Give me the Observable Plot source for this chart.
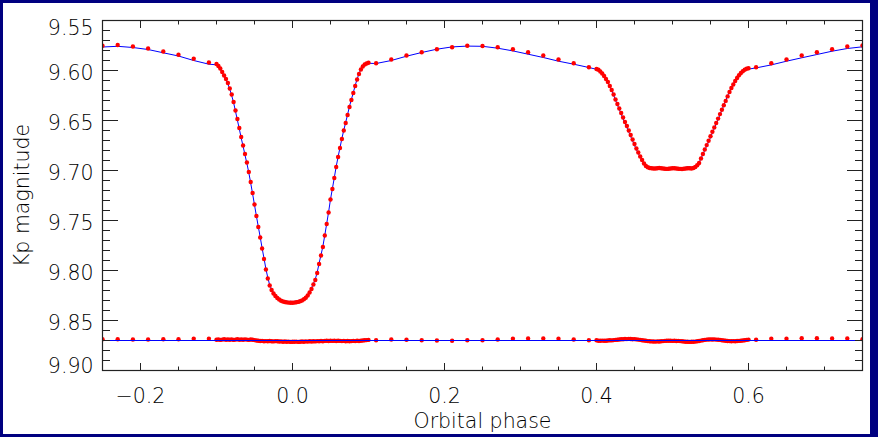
<!DOCTYPE html>
<html><head><meta charset="utf-8">
<script src="https://cdn.jsdelivr.net/npm/d3@7"></script>
<script src="https://cdn.jsdelivr.net/npm/@observablehq/plot@0.6"></script>
<style>
html,body{margin:0;padding:0;background:#fff;}
#wrap{position:relative;width:878px;height:437px;overflow:hidden;}
#border{position:absolute;left:0;top:0;width:878px;height:437px;box-sizing:border-box;border-style:solid;border-color:#000080;border-width:3px 8px 3px 3px;pointer-events:none;}
</style></head>
<body><div id="wrap"><div id="chart"></div><div id="border"></div></div>
<script>
// ---- Out-of-eclipse (binned, 0.02 phase) ----
const sparsePhase = [-0.25,-0.23,-0.21,-0.19,-0.17,-0.15,-0.13,-0.11,
  0.11,0.13,0.15,0.17,0.19,0.21,0.23,0.25,0.27,0.29,0.31,0.33,0.35,0.37,0.39,
  0.61,0.63,0.65,0.67,0.69,0.71,0.73,0.75];
const sparseMag = [9.5752,9.5745,9.5760,9.5780,9.5810,9.5842,9.5883,9.5920,
  9.5927,9.5890,9.5850,9.5817,9.5787,9.5767,9.5753,9.5755,9.5767,9.5787,9.5817,9.5850,9.5890,9.5927,9.5967,
  9.5967,9.5927,9.5890,9.5850,9.5817,9.5787,9.5760,9.5750];
const sparseResid = [-0.0013,-0.0013,-0.0010,-0.0010,-0.0013,-0.0013,-0.0017,-0.0017,
  -0.0003,-0.0010,-0.0007,-0.0003,0.0000,0.0003,-0.0003,-0.0003,-0.0010,-0.0017,-0.0020,-0.0020,-0.0017,-0.0010,-0.0003,
  -0.0007,-0.0017,-0.0017,-0.0023,-0.0023,-0.0020,-0.0020,-0.0013];

// ---- Primary eclipse ----
const primaryPhase = [-0.1000,-0.0975,-0.0950,-0.0925,-0.0900,-0.0875,-0.0850,-0.0825,-0.0800,-0.0775,
  -0.0750,-0.0725,-0.0700,-0.0675,-0.0650,-0.0625,-0.0600,-0.0575,-0.0550,-0.0525,
  -0.0500,-0.0475,-0.0450,-0.0425,-0.0400,-0.0375,-0.0350,-0.0325,-0.0300,-0.0275,
  -0.0250,-0.0225,-0.0200,-0.0175,-0.0150,-0.0125,-0.0100,-0.0075,-0.0050,-0.0025,
  0.0000,0.0025,0.0050,0.0075,0.0100,0.0125,0.0150,0.0175,0.0200,0.0225,
  0.0250,0.0275,0.0300,0.0325,0.0350,0.0375,0.0400,0.0425,0.0450,0.0475,
  0.0500,0.0525,0.0550,0.0575,0.0600,0.0625,0.0650,0.0675,0.0700,0.0725,
  0.0750,0.0775,0.0800,0.0825,0.0850,0.0875,0.0900,0.0925,0.0950,0.0975,0.1000];
const primaryMag = [9.5935,9.5955,9.5980,9.6015,9.6050,9.6085,9.6125,9.6180,9.6240,9.6315,
  9.6400,9.6485,9.6575,9.6665,9.6750,9.6835,9.6920,9.7015,9.7115,9.7225,
  9.7340,9.7455,9.7565,9.7670,9.7780,9.7885,9.7990,9.8080,9.8150,9.8195,
  9.8230,9.8255,9.8275,9.8290,9.8302,9.8310,9.8315,9.8319,9.8321,9.8322,
  9.8322,9.8321,9.8318,9.8314,9.8308,9.8300,9.8288,9.8272,9.8250,9.8220,
  9.8185,9.8140,9.8095,9.8025,9.7935,9.7850,9.7765,9.7650,9.7535,9.7420,
  9.7290,9.7185,9.7075,9.6965,9.6865,9.6775,9.6685,9.6600,9.6525,9.6445,
  9.6365,9.6295,9.6225,9.6155,9.6090,9.6035,9.5990,9.5960,9.5940,9.5930,9.5922];
const primaryResid = [-0.0008,-0.0010,-0.0006,-0.0009,-0.0012,-0.0007,-0.0010,-0.0008,-0.0011,-0.0006,
  -0.0009,-0.0012,-0.0008,-0.0010,-0.0007,-0.0011,-0.0009,-0.0006,-0.0010,-0.0008,
  -0.0004,0.0000,0.0003,0.0005,0.0004,0.0007,0.0006,0.0008,0.0005,0.0007,
  0.0009,0.0006,0.0008,0.0010,0.0009,0.0012,0.0010,0.0013,0.0011,0.0014,
  0.0012,0.0013,0.0011,0.0014,0.0012,0.0010,0.0012,0.0009,0.0011,0.0008,
  0.0010,0.0007,0.0009,0.0006,0.0008,0.0005,0.0007,0.0004,0.0003,0.0005,
  0.0002,0.0004,0.0003,0.0005,0.0002,0.0004,0.0006,0.0004,0.0007,0.0005,
  0.0008,0.0006,0.0004,0.0006,0.0003,0.0005,0.0002,0.0000,-0.0002,-0.0004,-0.0006];

// ---- Secondary eclipse ----
const secondaryPhase = [0.4000,0.4025,0.4050,0.4075,0.4100,0.4125,0.4150,0.4175,0.4200,0.4225,
  0.4250,0.4275,0.4300,0.4325,0.4350,0.4375,0.4400,0.4425,0.4450,0.4475,
  0.4500,0.4525,0.4550,0.4575,0.4600,0.4625,0.4650,0.4675,0.4700,0.4725,
  0.4750,0.4775,0.4800,0.4825,0.4850,0.4875,0.4900,0.4925,0.4950,0.4975,
  0.5000,0.5025,0.5050,0.5075,0.5100,0.5125,0.5150,0.5175,0.5200,0.5225,
  0.5250,0.5275,0.5300,0.5325,0.5350,0.5375,0.5400,0.5425,0.5450,0.5475,
  0.5500,0.5525,0.5550,0.5575,0.5600,0.5625,0.5650,0.5675,0.5700,0.5725,
  0.5750,0.5775,0.5800,0.5825,0.5850,0.5875,0.5900,0.5925,0.5950,0.5975,0.6000];
const secondaryMag = [9.5985,9.5993,9.6010,9.6030,9.6055,9.6085,9.6115,9.6155,9.6195,9.6240,
  9.6290,9.6335,9.6380,9.6425,9.6470,9.6515,9.6555,9.6600,9.6645,9.6690,
  9.6735,9.6780,9.6820,9.6860,9.6895,9.6930,9.6955,9.6968,9.6975,9.6978,
  9.6980,9.6980,9.6978,9.6975,9.6977,9.6980,9.6983,9.6984,9.6982,9.6980,
  9.6978,9.6978,9.6980,9.6982,9.6984,9.6985,9.6983,9.6980,9.6978,9.6978,
  9.6980,9.6975,9.6965,9.6948,9.6925,9.6880,9.6835,9.6790,9.6746,9.6702,
  9.6658,9.6613,9.6569,9.6525,9.6481,9.6436,9.6392,9.6348,9.6304,9.6259,
  9.6215,9.6175,9.6140,9.6105,9.6075,9.6048,9.6025,9.6007,9.5993,9.5983,9.5977];
const secondaryResid = [-0.0003,0.0002,0.0003,0.0001,0.0003,0.0002,0.0000,-0.0002,-0.0001,-0.0004,
  -0.0006,-0.0008,-0.0010,-0.0012,-0.0013,-0.0015,-0.0014,-0.0016,-0.0015,-0.0013,
  -0.0014,-0.0011,-0.0009,-0.0006,-0.0003,0.0000,0.0003,0.0006,0.0008,0.0009,
  0.0010,0.0011,0.0009,0.0010,0.0008,0.0006,0.0004,0.0003,0.0002,0.0003,
  0.0004,0.0003,0.0005,0.0004,0.0006,0.0008,0.0010,0.0012,0.0013,0.0014,
  0.0013,0.0012,0.0011,0.0008,0.0005,0.0001,-0.0003,-0.0006,-0.0009,-0.0010,
  -0.0011,-0.0010,-0.0011,-0.0009,-0.0008,-0.0006,-0.0003,0.0000,0.0003,0.0005,
  0.0006,0.0007,0.0006,0.0007,0.0005,0.0004,0.0002,0.0000,-0.0003,-0.0006,-0.0009];

// residuals are plotted shifted to this level
const residBase = 9.870;

// ---- ticks & labels ----
const yMajor = [9.55,9.60,9.65,9.70,9.75,9.80,9.85,9.90];
const yMinor = [9.56,9.57,9.58,9.59,9.61,9.62,9.63,9.64,9.66,9.67,9.68,9.69,9.71,9.72,9.73,9.74,
  9.76,9.77,9.78,9.79,9.81,9.82,9.83,9.84,9.86,9.87,9.88,9.89];
const xMajor = [-0.2,0.0,0.2,0.4,0.6];
const xMinor = [-0.15,-0.1,-0.05,0.05,0.1,0.15,0.25,0.3,0.35,0.45,0.5,0.55,0.65,0.7];
const xTitle = "Orbital phase";
const yTitle = "Kp magnitude";

// ---- tables ----
const rows = [];
function add(P, M, R) { P.forEach((p, i) => rows.push({phase: p, mag: M[i], resid: R[i], model: M[i] - R[i]})); }
add(sparsePhase, sparseMag, sparseResid);
add(primaryPhase, primaryMag, primaryResid);
add(secondaryPhase, secondaryMag, secondaryResid);
rows.sort((a, b) => a.phase - b.phase);

const font = "DejaVu Sans";
const ink = "#222";
const txt = "#000";
const fmtX = d => (d < 0 ? "\u2212" : "") + Math.abs(d).toFixed(1);
const labelOpts = {anchor: "left", stroke: "none", fill: txt, tickSize: 0, tickPadding: 9,
  tickFormat: d => d.toFixed(2), fontSize: 20.5, fontWeight: 300, label: null};

const chart = Plot.plot({
  width: 878, height: 437,
  marginLeft: 102, marginRight: 16, marginTop: 20, marginBottom: 67,
  style: {background: "#fff", fontFamily: font, color: ink, overflow: "visible"},
  x: {domain: [-0.25, 0.75], label: null},
  y: {domain: [9.55, 9.90], reverse: true, label: null},
  marks: [
    Plot.line(rows, {x: "phase", y: "model", stroke: "#0000ff", strokeWidth: 1, clip: true}),
    Plot.dot(rows, {x: "phase", y: "mag", r: 2.2, fill: "#ff0000", stroke: "none", clip: true}),
    Plot.dot(rows, {x: "phase", y: d => residBase + d.resid, r: 2.2, fill: "#ff0000", stroke: "none", clip: true}),
    Plot.ruleY([residBase], {stroke: "#0000ff", strokeWidth: 1}),
    Plot.axisY(yMajor, {anchor: "left", tickSize: -16, fill: "none", stroke: ink, label: null}),
    Plot.axisY(yMajor, {anchor: "right", tickSize: -16, fill: "none", stroke: ink, label: null}),
    Plot.axisY(yMinor, {anchor: "left", tickSize: -8, fill: "none", stroke: ink, label: null}),
    Plot.axisY(yMinor, {anchor: "right", tickSize: -8, fill: "none", stroke: ink, label: null}),
    Plot.axisX(xMajor, {anchor: "bottom", tickSize: -7, fill: "none", stroke: ink, label: null}),
    Plot.axisX(xMajor, {anchor: "top", tickSize: -7, fill: "none", stroke: ink, label: null}),
    Plot.axisX(xMinor, {anchor: "bottom", tickSize: -3.5, fill: "none", stroke: ink, label: null}),
    Plot.axisX(xMinor, {anchor: "top", tickSize: -3.5, fill: "none", stroke: ink, label: null}),
    Plot.axisY(yMajor.slice(1, -1), {...labelOpts, dy: 2.7}),
    Plot.axisY([yMajor[0]], {...labelOpts, dy: 8.4}),
    Plot.axisY([yMajor[yMajor.length - 1]], {...labelOpts, dy: -3.9}),
    Plot.axisX(xMajor, {anchor: "bottom", stroke: "none", fill: txt, tickSize: 0, tickPadding: 18,
      tickFormat: fmtX, fontSize: 20.5, fontWeight: 300, label: null}),
    Plot.frame({stroke: ink, strokeWidth: 1.2}),
    Plot.text([xTitle], {text: d => d, frameAnchor: "bottom", dy: 51.3, lineAnchor: "middle", textAnchor: "middle",
      fontSize: 20.5, fontWeight: 300, fill: txt}),
    Plot.text([yTitle], {text: d => d, frameAnchor: "left", dx: -80, rotate: -90, lineAnchor: "middle", textAnchor: "middle",
      fontSize: 20.5, fontWeight: 300, fill: txt})
  ]
});
document.getElementById("chart").appendChild(chart);
</script>
</body></html>
